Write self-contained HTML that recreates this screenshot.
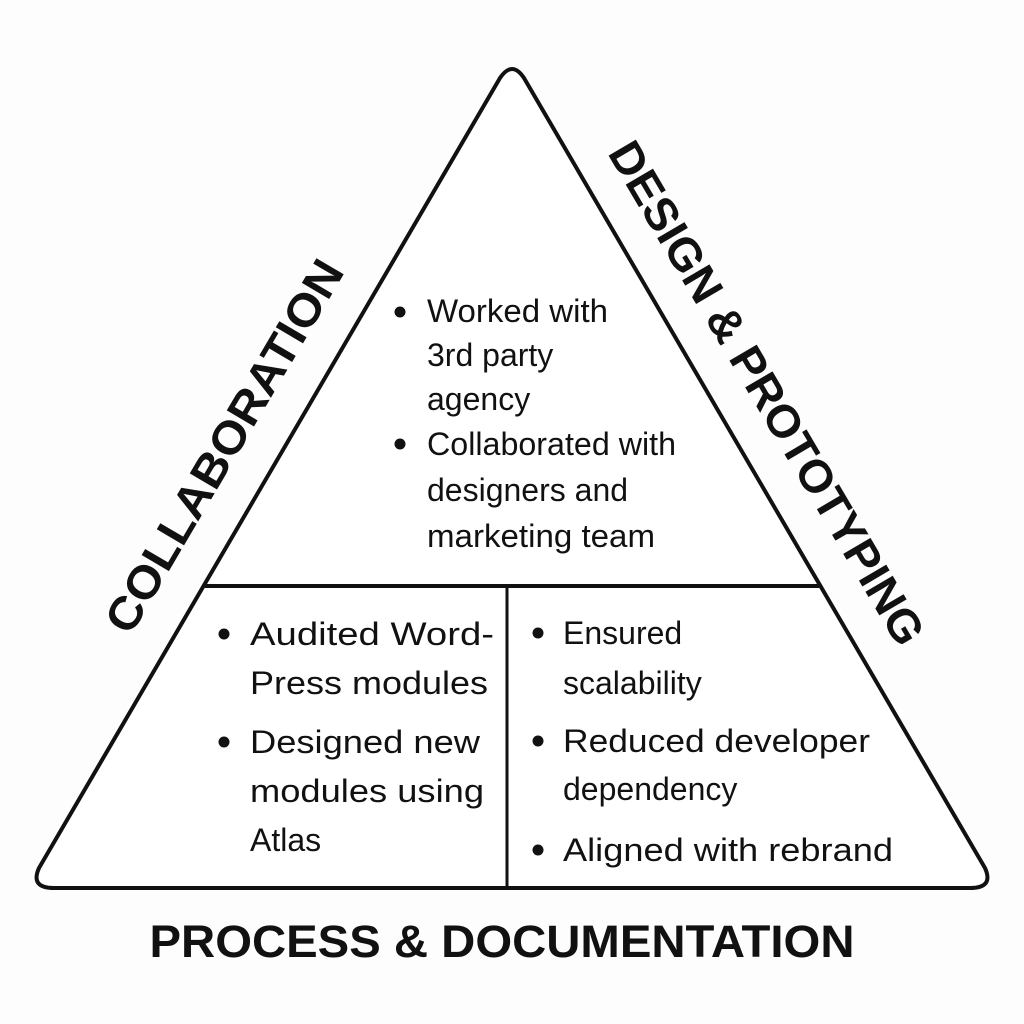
<!DOCTYPE html>
<html><head><meta charset="utf-8"><style>
html,body{margin:0;padding:0;background:#fdfdfd;}
svg{display:block}
text{font-family:"Liberation Sans",sans-serif;fill:#111;}
.b{font-size:32px;}
.h{font-weight:bold;font-size:46px;}
</style></head><body>
<svg width="1024" height="1024" viewBox="0 0 1024 1024">
<path d="M500,78 Q512,60 524,78 L985,868 Q994,888 970,888 L54,888 Q30,888 39,868 Z" fill="#fff" stroke="#111" stroke-width="4" stroke-linejoin="round"/>
<line x1="205" y1="586" x2="819" y2="586" stroke="#111" stroke-width="4"/>
<line x1="507" y1="586" x2="507" y2="888" stroke="#111" stroke-width="3"/>
<g class="b">
<circle cx="400" cy="312" r="5.5" fill="#111"/>
<text x="427" y="322" textLength="181" lengthAdjust="spacingAndGlyphs">Worked with</text>
<text x="427" y="366">3rd party</text>
<text x="427" y="410">agency</text>
<circle cx="400" cy="444" r="5.5" fill="#111"/>
<text x="427" y="455" textLength="249" lengthAdjust="spacingAndGlyphs">Collaborated with</text>
<text x="427" y="501">designers and</text>
<text x="427" y="547" textLength="228" lengthAdjust="spacingAndGlyphs">marketing team</text>
<circle cx="224" cy="634" r="5.5" fill="#111"/>
<text x="250" y="645" textLength="244" lengthAdjust="spacingAndGlyphs">Audited Word-</text>
<text x="250" y="694" textLength="238" lengthAdjust="spacingAndGlyphs">Press modules</text>
<circle cx="224" cy="742" r="5.5" fill="#111"/>
<text x="250" y="753" textLength="230" lengthAdjust="spacingAndGlyphs">Designed new</text>
<text x="250" y="802" textLength="234" lengthAdjust="spacingAndGlyphs">modules using</text>
<text x="250" y="851">Atlas</text>
<circle cx="538" cy="633" r="5.5" fill="#111"/>
<text x="563" y="644">Ensured</text>
<text x="563" y="694">scalability</text>
<circle cx="538" cy="741" r="5.5" fill="#111"/>
<text x="563" y="752" textLength="307" lengthAdjust="spacingAndGlyphs">Reduced developer</text>
<text x="563" y="800">dependency</text>
<circle cx="538" cy="850" r="5.5" fill="#111"/>
<text x="563" y="861" textLength="330" lengthAdjust="spacingAndGlyphs">Aligned with rebrand</text>
</g>
<text class="h" transform="translate(224,446) rotate(-59.5)" text-anchor="middle" textLength="424" lengthAdjust="spacingAndGlyphs" dy="16">COLLABORATION</text>
<text class="h" transform="translate(767,393) rotate(59.5)" text-anchor="middle" textLength="576" lengthAdjust="spacingAndGlyphs" dy="16">DESIGN &amp; PROTOTYPING</text>
<text class="h" x="502" y="957" text-anchor="middle" style="font-size:45px" textLength="705" lengthAdjust="spacingAndGlyphs">PROCESS &amp; DOCUMENTATION</text>
</svg>
</body></html>
